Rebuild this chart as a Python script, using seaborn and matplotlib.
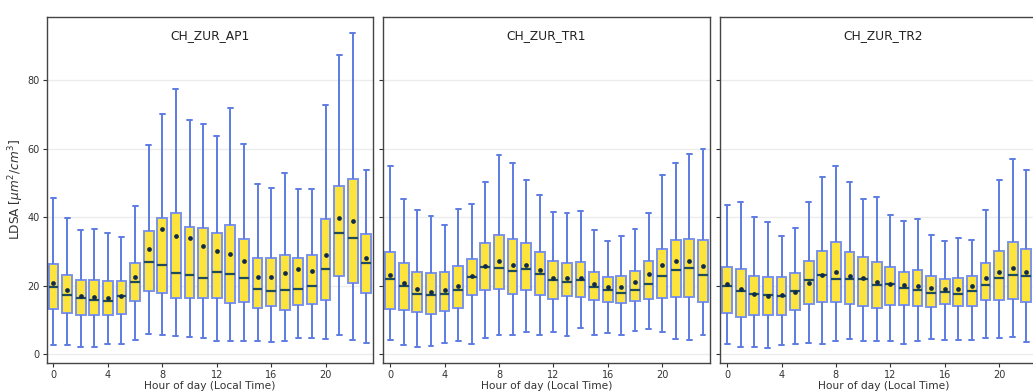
import numpy as np
import pandas as pd
import matplotlib
matplotlib.use("Agg")
import matplotlib.pyplot as plt
import seaborn as sns

# hourly LDSA stats (whisker low, q1, median, q3, whisker high, mean)
hours = list(range(24))
stations = ["CH_ZUR_AP1", "CH_ZUR_TR1", "CH_ZUR_TR2"]

ap1_lo = [2.8, 2.8, 2.1, 2.1, 3.1, 3.1, 4.1, 5.8, 5.5, 5.3, 5.0, 4.8, 3.7, 3.7, 3.9, 3.9, 3.5, 3.7, 4.8, 4.6, 4.4, 5.6, 4.2, 3.2]
ap1_q1 = [13.3, 12.1, 11.4, 11.3, 11.3, 11.7, 15.5, 18.4, 17.9, 16.4, 16.4, 16.4, 16.4, 15.0, 15.3, 13.5, 14.0, 13.0, 14.3, 14.5, 15.8, 22.8, 20.8, 17.9]
ap1_med = [19.5, 17.2, 16.5, 15.8, 15.5, 16.9, 21.1, 26.8, 25.9, 23.6, 23.1, 22.2, 23.9, 23.3, 22.2, 18.9, 18.4, 18.8, 19.1, 20.0, 24.9, 35.3, 34.0, 26.6]
ap1_q3 = [26.3, 23.2, 21.6, 21.6, 21.4, 21.4, 26.7, 36.0, 39.6, 41.3, 37.2, 36.7, 35.5, 37.6, 33.6, 28.1, 28.1, 29.0, 28.1, 28.8, 39.5, 49.1, 51.0, 35.2]
ap1_hi = [45.7, 39.8, 36.2, 36.6, 35.5, 34.2, 43.3, 61.0, 70.1, 77.3, 68.2, 67.3, 63.7, 71.7, 61.2, 49.7, 48.4, 52.8, 48.3, 48.2, 72.8, 87.3, 93.8, 53.7]
ap1_mean = [20.7, 18.7, 17.1, 16.7, 16.4, 16.9, 22.6, 30.8, 36.4, 34.6, 34.0, 31.7, 30.2, 29.3, 27.1, 22.6, 22.4, 23.7, 24.9, 24.3, 28.9, 39.6, 38.8, 28.1]

tr1_lo = [4.1, 2.8, 2.1, 2.4, 3.3, 3.9, 3.1, 4.6, 5.5, 5.5, 6.4, 5.7, 6.4, 5.4, 7.7, 5.7, 6.2, 5.5, 6.7, 7.2, 6.4, 4.4, 4.1, 5.5]
tr1_q1 = [13.1, 13.0, 12.2, 11.7, 12.6, 13.6, 17.2, 18.8, 19.1, 17.6, 18.7, 17.4, 16.2, 17.0, 16.6, 15.8, 15.3, 14.9, 15.5, 16.0, 16.4, 16.6, 16.6, 15.1]
tr1_med = [21.8, 20.0, 17.7, 17.2, 17.5, 18.7, 22.4, 25.3, 25.0, 24.2, 24.8, 23.5, 21.6, 21.0, 21.5, 19.5, 18.6, 17.9, 18.7, 20.4, 22.9, 24.6, 25.2, 23.1]
tr1_q3 = [29.9, 26.5, 24.0, 23.6, 23.9, 25.7, 27.9, 32.3, 34.7, 33.5, 32.5, 29.9, 27.3, 26.5, 26.8, 23.9, 22.4, 22.7, 24.2, 27.3, 30.8, 33.4, 33.6, 33.4]
tr1_hi = [54.8, 45.4, 42.1, 40.4, 37.6, 42.5, 43.7, 50.2, 58.2, 55.8, 50.9, 46.4, 41.4, 41.2, 41.8, 36.1, 33.1, 34.5, 36.6, 41.3, 52.4, 55.8, 58.4, 60.0]
tr1_mean = [23.1, 20.7, 19.1, 18.2, 18.8, 19.9, 22.7, 25.8, 27.2, 26.0, 26.0, 24.5, 22.2, 22.1, 22.3, 20.6, 19.7, 19.7, 21.1, 23.5, 26.1, 27.3, 27.3, 25.8]

tr2_lo = [3.1, 2.1, 2.1, 1.9, 2.6, 3.1, 3.3, 3.0, 3.8, 4.5, 3.8, 3.8, 3.8, 3.1, 3.9, 4.4, 4.0, 4.2, 4.1, 4.6, 4.8, 5.1, 3.5, 3.6]
tr2_q1 = [12.1, 10.9, 11.3, 11.5, 11.3, 13.0, 14.5, 15.2, 15.3, 14.6, 14.0, 13.6, 14.2, 14.4, 14.0, 13.8, 14.5, 14.0, 14.1, 15.7, 15.8, 16.2, 15.1, 15.0]
tr2_med = [20.0, 18.4, 17.6, 17.4, 17.1, 18.4, 21.6, 23.1, 21.8, 21.8, 22.0, 20.3, 20.4, 19.2, 18.7, 17.9, 18.0, 17.6, 18.3, 20.1, 22.3, 23.0, 22.9, 22.5]
tr2_q3 = [25.3, 24.8, 22.8, 22.6, 22.6, 23.6, 27.1, 30.1, 32.7, 29.7, 28.3, 26.8, 25.5, 24.1, 24.6, 22.8, 21.8, 22.3, 22.9, 26.5, 30.0, 32.6, 30.7, 30.0]
tr2_hi = [43.4, 44.5, 40.0, 38.7, 34.5, 36.7, 44.5, 51.8, 54.9, 50.1, 45.2, 46.0, 40.6, 38.9, 39.5, 34.7, 33.0, 33.9, 33.3, 42.2, 50.7, 57.0, 53.8, 52.0]
tr2_mean = [20.5, 18.9, 17.6, 17.0, 17.2, 18.1, 20.9, 23.1, 24.0, 22.7, 22.1, 21.2, 20.5, 20.1, 20.0, 19.3, 18.9, 19.1, 20.0, 22.1, 23.9, 25.1, 24.0, 23.8]

stats = {
    "CH_ZUR_AP1": (ap1_lo, ap1_q1, ap1_med, ap1_q3, ap1_hi, ap1_mean),
    "CH_ZUR_TR1": (tr1_lo, tr1_q1, tr1_med, tr1_q3, tr1_hi, tr1_mean),
    "CH_ZUR_TR2": (tr2_lo, tr2_q1, tr2_med, tr2_q3, tr2_hi, tr2_mean),
}

sns.set_style("white")
plt.rcParams["font.family"] = ["DejaVu Sans"]

fig = plt.figure(figsize=(10.33, 3.92), dpi=100)
lefts = [0.0452, 0.3711, 0.6973]

box_fill = "#fde43c"
edge = "#7b93ea"
whisk = "#5d7be2"
med_col = "#1f4b5c"
mean_col = "#0f2a4a"

for i, name in enumerate(stations):
    ax = fig.add_axes([lefts[i], 0.0747, 0.316, 0.882])
    lo, q1, med, q3, hi, mean = stats[name]
    # five points per hour reproduce the drawn quartiles exactly
    rows = []
    for h in hours:
        for v in (lo[h], q1[h], med[h], q3[h], hi[h]):
            rows.append((h, v))
    df = pd.DataFrame(rows, columns=["hour", "ldsa"])
    sns.boxplot(data=df, x="hour", y="ldsa", ax=ax, whis=(0, 100), width=0.72,
                showfliers=False, color=box_fill, linewidth=1.4,
                boxprops=dict(facecolor=box_fill, edgecolor=edge),
                whiskerprops=dict(color=whisk),
                capprops=dict(color=whisk),
                medianprops=dict(color=med_col, linewidth=1.6))
    mdf = pd.DataFrame({"hour": hours, "mean": mean})
    sns.stripplot(data=mdf, x="hour", y="mean", ax=ax, jitter=False,
                  color=mean_col, size=3.4, zorder=5)

    ax.set_ylim(-2.5, 98.4)
    ax.set_xlim(-0.5, 23.5)
    ax.set_yticks([0, 20, 40, 60, 80])
    ax.yaxis.grid(True, color="#ececec", linewidth=1)
    ax.set_axisbelow(True)
    ax.set_xticks(range(0, 24, 4))
    ax.set_xticklabels([str(h) for h in range(0, 24, 4)])
    ax.tick_params(axis="both", labelsize=7, colors="#333333", length=3, pad=2,
                   bottom=True, left=True)
    for s in ax.spines.values():
        s.set_color("#444444")
        s.set_linewidth(1)
    ax.set_xlabel("Hour of day (Local Time)", fontsize=7.7, color="#333333", labelpad=1)
    if i == 0:
        ax.set_ylabel(r"LDSA [$\mu m^2/cm^3$]", fontsize=8.7, color="#333333", labelpad=1)
    else:
        ax.set_ylabel("")
        ax.set_yticklabels([])
    ax.text(0.5, 0.965, name, transform=ax.transAxes, ha="center", va="top",
            fontsize=8.8, color="#222222")

fig.savefig("out.png", dpi=100)
